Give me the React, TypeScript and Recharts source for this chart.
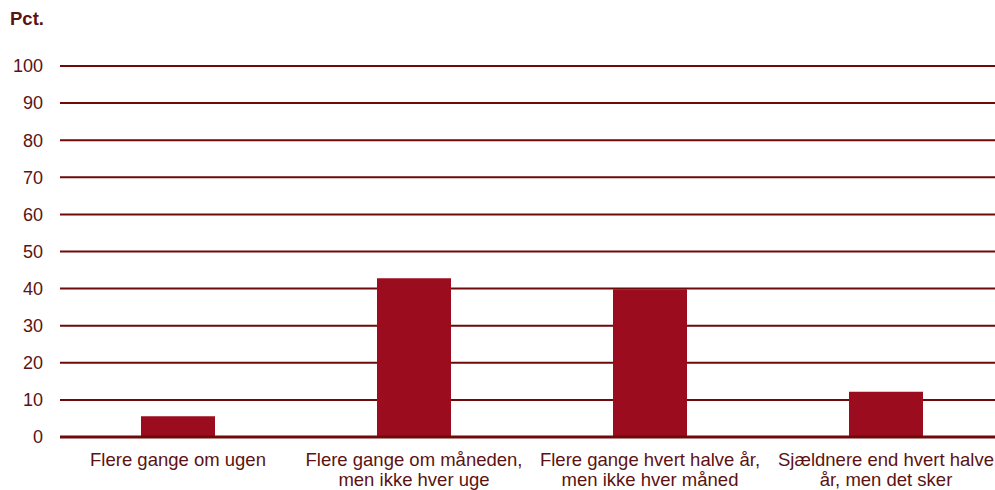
import { BarChart, Bar, XAxis, YAxis, CartesianGrid } from 'recharts';

const CATEGORIES = [
  ['Flere gange om ugen'],
  ['Flere gange om måneden,', 'men ikke hver uge'],
  ['Flere gange hvert halve år,', 'men ikke hver måned'],
  ['Sjældnere end hvert halve', 'år, men det sker'],
];
const VALUES = [5.6, 42.8, 39.8, 12.2];
const Y_TICKS = [0, 10, 20, 30, 40, 50, 60, 70, 80, 90, 100];

const BAR_COLOR = '#9b0c1f';
const LINE_COLOR = '#6e0a0a';
const TEXT_COLOR = '#5c1212';
const FONT = '"Liberation Sans", Arial, sans-serif';

const data = CATEGORIES.map((lines, i) => ({ name: lines.join('\n'), value: VALUES[i] }));

function CategoryTick({ x, y, payload }: { x?: number; y?: number; payload?: { value: string } }) {
  const lines = (payload?.value || '').split('\n');
  return (
    <text x={x} y={y} textAnchor="middle" fill={TEXT_COLOR} fontSize={18.5} fontFamily={FONT}>
      {lines.map((l, i) => (
        <tspan key={i} x={x} dy={i === 0 ? 21 : 20}>{l}</tspan>
      ))}
    </text>
  );
}

export default function App() {
  return (
    <div style={{ position: 'absolute', left: 0, top: 0, width: 995, height: 490, overflow: 'hidden', background: '#fff' }}>
      <div style={{ position: 'absolute', left: 10, top: 8, fontFamily: FONT, fontWeight: 'bold', fontSize: 18.5, color: TEXT_COLOR }}>Pct.</div>
      <BarChart width={1004} height={490} data={data} margin={{ top: 66, right: 0, bottom: 0, left: 0 }} barSize={74}>
        <CartesianGrid vertical={false} stroke={LINE_COLOR} strokeWidth={2} />
        <XAxis
          dataKey="name"
          height={53}
          interval={0}
          tickLine={false}
          axisLine={{ stroke: LINE_COLOR, strokeWidth: 3 }}
          tick={<CategoryTick />}
        />
        <YAxis
          width={60}
          domain={[0, 100]}
          ticks={Y_TICKS}
          axisLine={false}
          tickLine={false}
          tickMargin={11}
          tick={{ fill: TEXT_COLOR, fontSize: 18, fontFamily: FONT }}
        />
        <Bar dataKey="value" fill={BAR_COLOR} isAnimationActive={false} />
      </BarChart>
    </div>
  );
}
